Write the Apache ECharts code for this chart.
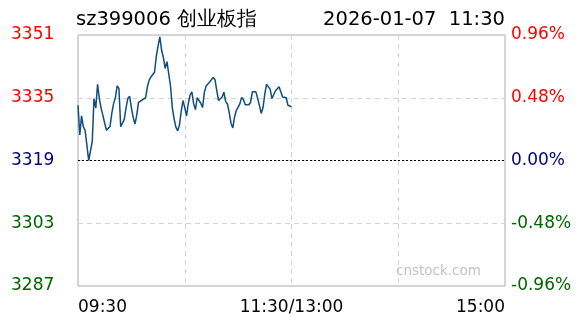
<!DOCTYPE html>
<html>
<head>
<meta charset="utf-8">
<script src="https://cdn.jsdelivr.net/npm/echarts@6/dist/echarts.min.js"></script>
<style>
html,body{margin:0;padding:0;background:#fff;}
#chart{width:588px;height:324px;}
</style>
</head>
<body>
<div id="chart"></div>
<script>
// ---- data ----
var titleLeft = 'sz399006 创业板指';
var titleRight = '2026-01-07  11:30';
var preClose = 3319;
var yMin = 3287, yMax = 3351, yStep = 16;
var xTickLabels = ['09:30', '', '11:30/13:00', '', '15:00'];
var totalMinutes = 240;
// one price per minute, 09:30 .. 11:30
var prices = [
  3333.1, 3325.5, 3330.4, 3327.6, 3326.7, 3322.9, 3319.0, 3319.5, 3323.8, 3334.8,
  3332.4, 3338.4, 3334.8, 3332.3, 3330.5, 3328.5, 3326.7, 3327.2, 3327.7, 3331.0,
  3333.5, 3335.0, 3338.0, 3337.4, 3327.6, 3327.7, 3329.5, 3332.5, 3334.8, 3335.4,
  3332.5, 3330.0, 3328.3, 3330.5, 3333.8, 3333.3, 3334.4, 3334.1, 3335.0, 3337.8,
  3339.5, 3340.3, 3339.8, 3341.5, 3345.5, 3348.2, 3350.5, 3347.1, 3345.2, 3342.5,
  3344.2, 3344.3, 3338.0, 3332.5, 3329.7, 3327.5, 3326.6, 3328.0, 3331.5, 3334.3,
  3332.5, 3330.4, 3333.6, 3335.7, 3336.5, 3333.5, 3332.0, 3335.0, 3335.0, 3333.6,
  3332.5, 3336.3, 3338.0, 3337.5, 3339.0, 3339.4, 3340.2, 3339.6, 3336.8, 3334.3,
  3334.2, 3335.2, 3336.4, 3334.0, 3333.4, 3331.2, 3328.5, 3327.3, 3330.1, 3331.8,
  3332.6, 3333.5, 3335.1, 3334.5, 3333.2, 3333.0, 3333.2, 3333.8, 3336.5, 3336.3,
  3336.5, 3336.0, 3333.0, 3331.0, 3332.5, 3336.0, 3338.4, 3338.5, 3337.2, 3334.8,
  3335.0, 3336.8, 3336.9, 3337.8, 3337.5, 3335.2, 3335.6, 3335.0, 3333.1, 3332.8,
  3332.7
];

var upColor = '#ff0000', flatColor = '#000080', downColor = '#006400';
function levelColor(v) {
  if (v > preClose + 0.01) return upColor;
  if (v < preClose - 0.01) return downColor;
  return flatColor;
}

var chart = echarts.init(document.getElementById('chart'), null, {renderer: 'canvas'});
var FONT = 'DejaVu Sans';
chart.setOption({
  animation: false,
  backgroundColor: '#ffffff',
  title: [
    {text: titleLeft, left: 76, top: 10, padding: 0,
     textStyle: {fontFamily: FONT, fontSize: 19.5, fontWeight: 'normal', color: '#000'}},
    {text: titleRight, right: 83, top: 10, padding: 0,
     textStyle: {fontFamily: FONT, fontSize: 19.5, fontWeight: 'normal', color: '#000'}}
  ],
  grid: {left: 78, right: 83, top: 35, bottom: 38, show: true, borderColor: '#aaaaaa', borderWidth: 1, containLabel: false},
  xAxis: {
    type: 'value', min: 0, max: totalMinutes, interval: 60,
    axisLine: {show: false}, axisTick: {show: false},
    splitLine: {show: true, lineStyle: {color: '#d4d4d4', type: [5, 4], width: 1}},
    axisLabel: {
      margin: 13, fontFamily: FONT, fontSize: 17, color: '#000',
      alignMinLabel: 'left', alignMaxLabel: 'right',
      formatter: function (v) { return xTickLabels[Math.round(v / 60)] || ''; }
    }
  },
  yAxis: [
    {
      type: 'value', min: yMin, max: yMax, interval: yStep, position: 'left',
      axisLine: {show: false}, axisTick: {show: false},
      splitLine: {show: true, lineStyle: {color: '#d4d4d4', type: [5, 4], width: 1}},
      axisLabel: {
        align: 'left', margin: 67, fontFamily: FONT, fontSize: 17,
        formatter: function (v) { return String(v); },
        color: function (v) { return levelColor(Number(v)); }
      }
    },
    {
      type: 'value', min: yMin, max: yMax, interval: yStep, position: 'right',
      axisLine: {show: false}, axisTick: {show: false}, splitLine: {show: false},
      axisLabel: {
        align: 'left', margin: 6, fontFamily: FONT, fontSize: 17,
        formatter: function (v) { return ((v - preClose) / preClose * 100).toFixed(2) + '%'; },
        color: function (v) { return levelColor(Number(v)); }
      }
    }
  ],
  graphic: [
    {type: 'text', left: 396, top: 264, silent: true,
     style: {text: 'cnstock.com', fill: '#c4c4c4', font: '13.5px "DejaVu Sans"'}}
  ],
  series: [{
    type: 'line',
    data: prices.map(function (v, i) { return [i, v]; }),
    showSymbol: false,
    lineStyle: {color: '#0e4d7e', width: 1.5},
    markLine: {
      silent: true, symbol: 'none', animation: false,
      label: {show: false},
      lineStyle: {color: '#000', type: [2, 2], width: 1},
      data: [{yAxis: preClose}]
    }
  }]
});
</script>
</body>
</html>
